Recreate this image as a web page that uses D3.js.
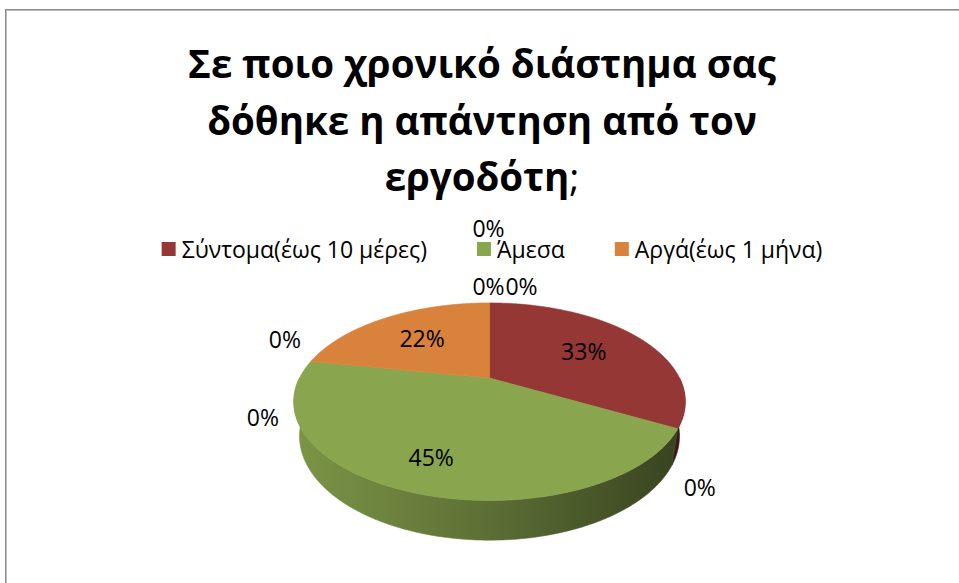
<!DOCTYPE html>
<html>
<head>
<meta charset="utf-8">
<script src="https://cdn.jsdelivr.net/npm/d3@7"></script>
<style>
  html, body { margin: 0; padding: 0; background: #ffffff; }
  svg { display: block; }
</style>
</head>
<body>
<svg id="chart" width="959" height="583"></svg>
<script>
// ---- data ----
const titleLines = ["Σε ποιο χρονικό διάστημα σας", "δόθηκε η απάντηση από τον", "εργοδότη"];
const titleTail = ";";
const categories = ["Σύντομα(έως 10 μέρες)", "", "Άμεσα", "", "", "Αργά(έως 1 μήνα)", "", "", ""];
const values = [33, 0, 45, 0, 0, 22, 0, 0, 0];
const legendNames = ["Σύντομα(έως 10 μέρες)", "Άμεσα", "Αργά(έως 1 μήνα)"];
const legendColors = ["#953735", "#89a54e", "#d8823b"];

// ---- layout ----
const W = 959, H = 583;
const font = "'Open Sans', 'Noto Sans', sans-serif";
const pieCx = 489.5, pieCy = 378;     // screen position of the pie's top-face centre
const focal = 190;                    // projected radius scale
const persp = 0.275;                  // radius / camera distance
const tilt = Math.asin(0.49);         // camera elevation
const thickness = 0.21;               // pie height relative to radius
const labelRadius = 0.62;             // label radius for slices at the back
const labelRadiusFront = 0.76;        // label radius for slices facing the viewer
// displacement of stacked zero-value labels from their rim anchor (in drawing order)
const zeroLabelNudge = [[22, 58], [-26, -22], [-48, 56], [-1, -17], [32, -17], [-1, -75]];

const svg = d3.select("#chart");

// chart frame
svg.append("rect").attr("x", 5.5).attr("y", 9.5).attr("width", 1200).attr("height", 1200)
  .attr("fill", "none").attr("stroke", "#8a8a8a").attr("stroke-width", 1);
svg.append("rect").attr("x", 6.5).attr("y", 10.5).attr("width", 1200).attr("height", 1200)
  .attr("fill", "none").attr("stroke", "#bcbcbc").attr("stroke-width", 1);

// ---- title ----
const title = svg.append("text")
  .attr("text-anchor", "middle")
  .attr("font-family", font)
  .attr("font-weight", "bold")
  .attr("font-size", 38.5)
  .attr("fill", "#000");
titleLines.forEach((line, i) => {
  const t = title.append("tspan").attr("x", 482).attr("y", 78 + i * 56.5).text(line);
  if (i === titleLines.length - 1) {
    t.append("tspan").attr("font-weight", "normal").text(titleTail);
  }
});

// ---- legend ----
const color = d3.scaleOrdinal().domain(legendNames).range(legendColors).unknown("#999999");
const legendFont = 23, legendGap = 50, swatch = 14, swatchGap = 6;
const legend = svg.append("g");
let lx = 0;
legendNames.forEach(name => {
  const g = legend.append("g");
  g.append("rect").attr("x", 0).attr("y", -swatch / 2).attr("width", swatch).attr("height", swatch)
    .attr("fill", color(name));
  const txt = g.append("text").attr("x", swatch + swatchGap).attr("y", 0)
    .attr("dominant-baseline", "central")
    .attr("font-family", font).attr("font-size", legendFont).attr("fill", "#000").text(name);
  const w = swatch + swatchGap + txt.node().getComputedTextLength();
  g.attr("transform", `translate(${lx},0)`);
  lx += w + legendGap;
});
const legendWidth = lx - legendGap;
legend.attr("transform", `translate(${492 - legendWidth / 2},249)`);

// ---- 3D pie ----
const pie = d3.pie().sort(null).value(d => d.value);
const arcs = pie(categories.map((c, i) => ({ name: c, value: values[i] })));
const total = d3.sum(values);
const pct = d3.format(".0%");

// project a point of the pie (unit radius, y up) to the screen
function project(x, y, z) {
  const depth = 1 - persp * (y * Math.sin(tilt) + z * Math.cos(tilt));
  return [pieCx + focal * x / depth, pieCy + focal * (z * Math.sin(tilt) - y * Math.cos(tilt)) / depth];
}
function rim(theta, r, y) {
  return project(r * Math.sin(theta), y, -r * Math.cos(theta));
}
function sampleAngles(a0, a1) {
  const n = Math.max(2, Math.ceil((a1 - a0) / (Math.PI / 360)));
  return d3.range(n + 1).map(i => a0 + (a1 - a0) * i / n);
}
const line = d3.line();

// horizontal extent of the pie for the wall shading
const extent = d3.extent(d3.range(0, 360, 0.5), a => rim(a * Math.PI / 180, 1, 0)[0]);

const defs = svg.append("defs");
const pieG = svg.append("g");

// outer walls (front half only)
arcs.filter(d => d.value > 0).forEach((d, i) => {
  const a0 = Math.max(d.startAngle, Math.PI / 2);
  const a1 = Math.min(d.endAngle, 3 * Math.PI / 2);
  if (a1 <= a0) return;
  const base = d3.rgb(color(d.data.name));
  const id = "wall" + i;
  const grad = defs.append("linearGradient").attr("id", id)
    .attr("gradientUnits", "userSpaceOnUse")
    .attr("x1", extent[0]).attr("x2", extent[1]).attr("y1", 0).attr("y2", 0);
  [[0, 0.9], [0.45, 0.7], [1, 0.4]].forEach(([o, f]) => {
    grad.append("stop").attr("offset", o)
      .attr("stop-color", d3.rgb(base.r * f, base.g * f, base.b * f).formatHex());
  });
  const angles = sampleAngles(a0, a1);
  const pts = angles.map(a => rim(a, 1, 0))
    .concat(angles.slice().reverse().map(a => rim(a, 1, -thickness)));
  pieG.append("path").attr("d", line(pts) + "Z").attr("fill", `url(#${id})`)
    .attr("stroke", `url(#${id})`).attr("stroke-width", 0.6);
});

// top faces
arcs.filter(d => d.value > 0).forEach(d => {
  const pts = [project(0, 0, 0)].concat(sampleAngles(d.startAngle, d.endAngle).map(a => rim(a, 1, 0)));
  pieG.append("path").attr("d", line(pts) + "Z")
    .attr("fill", color(d.data.name)).attr("stroke", color(d.data.name)).attr("stroke-width", 0.6);
});

// value labels
const labelG = svg.append("g").attr("font-family", font).attr("font-size", 23).attr("fill", "#000")
  .attr("text-anchor", "middle");
let zi = 0;
arcs.forEach(d => {
  const txt = pct(d.value / total);
  let p;
  if (d.value > 0) {
    const mid = (d.startAngle + d.endAngle) / 2;
    const front = Math.max(0, -Math.cos(mid));
    p = rim(mid, labelRadius + (labelRadiusFront - labelRadius) * front, 0);
  } else {
    const anchor = rim(d.startAngle, 1, 0);
    const nudge = zeroLabelNudge[zi++] || [0, -20];
    p = [anchor[0] + nudge[0], anchor[1] + nudge[1]];
  }
  labelG.append("text").attr("x", p[0]).attr("y", p[1]).attr("dominant-baseline", "central").text(txt);
});
</script>
</body>
</html>
